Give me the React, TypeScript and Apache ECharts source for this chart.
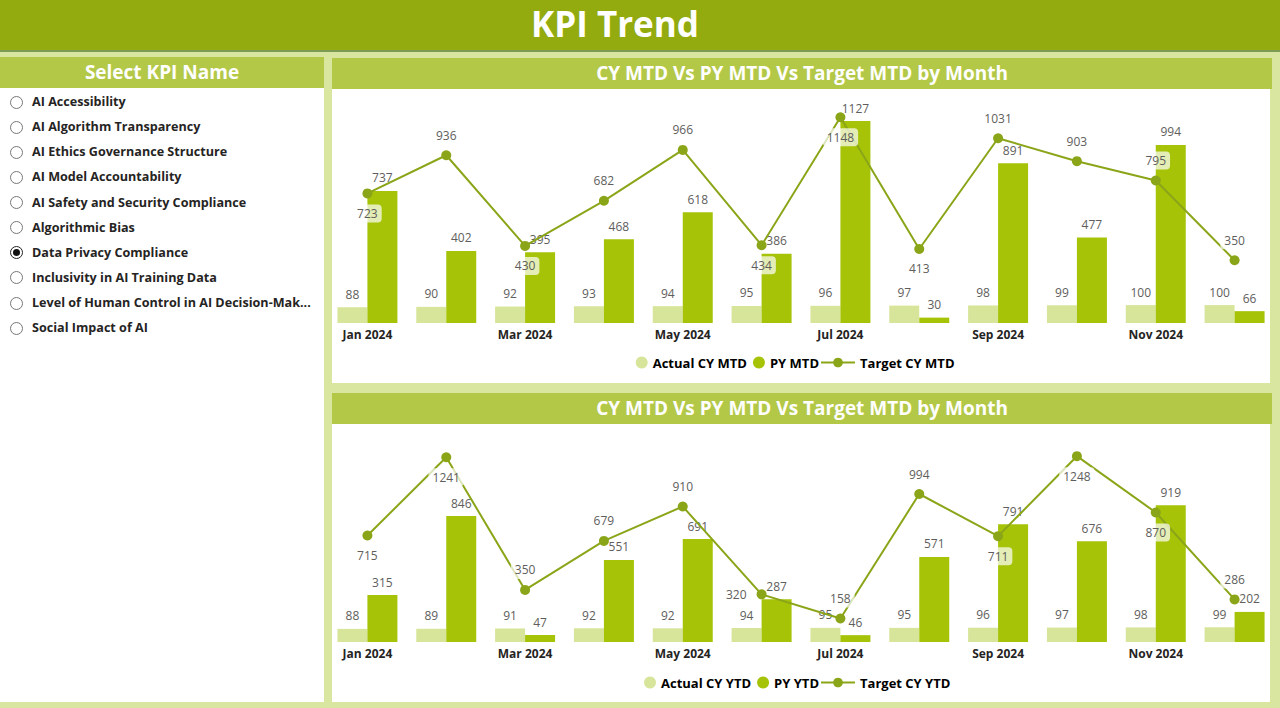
import React, { useEffect, useRef } from "react";
import * as echarts from "echarts";

const months = ["Jan 2024", "Feb 2024", "Mar 2024", "Apr 2024", "May 2024", "Jun 2024", "Jul 2024", "Aug 2024", "Sep 2024", "Oct 2024", "Nov 2024", "Dec 2024"];

const actualCyMtd = [88, 90, 92, 93, 94, 95, 96, 97, 98, 99, 100, 100];
const pyMtd = [737, 402, 395, 468, 618, 386, 1127, 30, 891, 477, 994, 66];
const targetCyMtd = [723, 936, 430, 682, 966, 434, 1148, 413, 1031, 903, 795, 350];

const actualCyYtd = [88, 89, 91, 92, 92, 94, 95, 95, 96, 97, 98, 99];
const pyYtd = [315, 846, 47, 551, 691, 287, 46, 571, 791, 676, 919, 202];
const targetCyYtd = [715, 1241, 350, 679, 910, 320, 158, 994, 711, 1248, 870, 286];

const kpiNames = [
  "AI Accessibility",
  "AI Algorithm Transparency",
  "AI Ethics Governance Structure",
  "AI Model Accountability",
  "AI Safety and Security Compliance",
  "Algorithmic Bias",
  "Data Privacy Compliance",
  "Inclusivity in AI Training Data",
  "Level of Human Control in AI Decision-Mak...",
  "Social Impact of AI",
];
const selectedKpi = "Data Privacy Compliance";

// label placement for the target line (layout only)
const mtdLabelPos = ["bottom", "top", "bottom", "top", "top", "bottom", "bottom", "bottom", "top", "top", "top", "top"];
const ytdLabelPos = ["bottom", "bottom", "top", "top", "top", "left", "top", "top", "bottom", "bottom", "bottom", "top"];

const FONT = "'Open Sans', 'Noto Sans', sans-serif";
const C_ACTUAL = "#d7e59a";
const C_PY = "#a6c308";
const C_LINE = "#8aa518";
const C_LABEL = "#605e5c";

function buildOption(
  actual: number[],
  py: number[],
  target: number[],
  pos: string[],
  names: string[],
  max: number,
  gridTop: number,
  legendTop: number
) {
  const lbl = { show: true, position: "top", distance: 7, color: C_LABEL, fontSize: 12, fontFamily: FONT };
  return {
    animation: false,
    grid: { left: 8, right: 6, top: gridTop, bottom: 60 },
    legend: [
      {
        data: [
          { name: names[0], icon: "circle", itemStyle: { color: C_ACTUAL } },
          { name: names[1], icon: "circle", itemStyle: { color: C_PY } },
        ],
        right: 456,
        top: legendTop,
        itemWidth: 12,
        itemHeight: 12,
        itemGap: 6,
        textStyle: { fontFamily: FONT, fontSize: 13, fontWeight: "bold", color: "#000" },
      },
      {
        data: [{ name: names[2] }],
        left: 495,
        top: legendTop,
        itemWidth: 34,
        itemHeight: 12,
        textStyle: { fontFamily: FONT, fontSize: 13, fontWeight: "bold", color: "#000" },
      },
    ],
    xAxis: {
      type: "category",
      data: months,
      axisLine: { show: false },
      axisTick: { show: false },
      axisLabel: {
        interval: 1,
        margin: 5,
        color: "#252423",
        fontWeight: "bold",
        fontSize: 12,
        fontFamily: FONT,
      },
    },
    yAxis: { type: "value", min: 0, max, show: false, splitLine: { show: false } },
    series: [
      {
        name: names[0],
        type: "bar",
        data: actual,
        barWidth: 30,
        barGap: "0%",
        itemStyle: { color: C_ACTUAL },
        label: lbl,
      },
      {
        name: names[1],
        type: "bar",
        data: py,
        barWidth: 30,
        barGap: "0%",
        itemStyle: { color: C_PY },
        label: lbl,
      },
      {
        name: names[2],
        type: "line",
        z: 5,
        data: target.map((v, i) => ({ value: v, label: { position: pos[i] } })),
        symbol: "circle",
        symbolSize: 10,
        itemStyle: { color: C_LINE },
        lineStyle: { color: C_LINE, width: 2 },
        label: {
          show: true,
          distance: 6,
          color: C_LABEL,
          fontSize: 12,
          fontFamily: FONT,
          backgroundColor: "rgba(255,255,255,0.7)",
          borderRadius: 4,
          padding: [3, 4],
        },
      },
    ],
  };
}

function Chart({ option, style }: { option: any; style: React.CSSProperties }) {
  const ref = useRef<HTMLDivElement>(null);
  useEffect(() => {
    if (!ref.current) return;
    const chart = echarts.init(ref.current, undefined, { renderer: "svg" });
    chart.setOption(option);
    return () => chart.dispose();
  }, [option]);
  return <div ref={ref} style={style} />;
}

const topOption = buildOption(actualCyMtd, pyMtd, targetCyMtd, mtdLabelPos, ["Actual CY MTD", "PY MTD", "Target CY MTD"], 1250, 10, 262);
const bottomOption = buildOption(actualCyYtd, pyYtd, targetCyYtd, ytdLabelPos, ["Actual CY YTD", "PY YTD", "Target CY YTD"], 1350, 17, 247);

const bandStyle: React.CSSProperties = {
  position: "absolute",
  background: "#b4c848",
  color: "#fff",
  fontWeight: "bold",
  fontSize: 19,
  textAlign: "center",
  fontFamily: FONT,
};

export default function App() {
  return (
    <div
      style={{
        position: "fixed",
        left: 0,
        top: 0,
        width: 1280,
        height: 708,
        background: "#d8e6a0",
        overflow: "hidden",
        fontFamily: FONT,
      }}
    >
      {/* Header */}
      <div style={{ position: "absolute", left: 0, top: 0, width: 1280, height: 50, background: "#93ab0f", borderBottom: "2px solid #7d9a55" }} />
      <div style={{ position: "absolute", left: 0, top: 0, width: 1230, height: 50, lineHeight: "48px", textAlign: "center", color: "#fff", fontWeight: "bold", fontSize: 35 }}>
        KPI Trend
      </div>

      {/* Left slicer panel */}
      <div style={{ position: "absolute", left: 0, top: 57, width: 324, height: 645, background: "#fff" }} />
      <div style={{ ...bandStyle, left: 0, top: 57, width: 324, height: 31, lineHeight: "30px" }}>Select KPI Name</div>
      <div style={{ position: "absolute", left: 0, top: 89, width: 324 }}>
        {kpiNames.map((n) => {
          const sel = n === selectedKpi;
          return (
            <div key={n} style={{ height: 25.15, display: "flex", alignItems: "center", position: "relative" }}>
              <div
                style={{
                  position: "absolute",
                  left: 10,
                  top: 6.5,
                  width: 11,
                  height: 11,
                  borderRadius: "50%",
                  border: sel ? "1px solid #222" : "1px solid #777",
                  background: "#fff",
                  boxSizing: "content-box",
                }}
              >
                {sel && <div style={{ position: "absolute", left: 2, top: 2, width: 7, height: 7, borderRadius: "50%", background: "#111" }} />}
              </div>
              <span style={{ position: "absolute", left: 32, fontSize: 12.6, fontWeight: "bold", color: "#252423", whiteSpace: "nowrap" }}>{n}</span>
            </div>
          );
        })}
      </div>

      {/* Top chart panel */}
      <div style={{ position: "absolute", left: 332, top: 58, width: 938, height: 325, background: "#fff" }} />
      <div style={{ ...bandStyle, left: 332, top: 58, width: 940, height: 31, lineHeight: "30px" }}>CY MTD Vs PY MTD Vs Target MTD by Month</div>
      <Chart option={topOption} style={{ position: "absolute", left: 320, top: 89, width: 960, height: 294 }} />

      {/* Bottom chart panel */}
      <div style={{ position: "absolute", left: 332, top: 393, width: 938, height: 309, background: "#fff" }} />
      <div style={{ ...bandStyle, left: 332, top: 393, width: 940, height: 31, lineHeight: "30px" }}>CY MTD Vs PY MTD Vs Target MTD by Month</div>
      <Chart option={bottomOption} style={{ position: "absolute", left: 320, top: 424, width: 960, height: 278 }} />
    </div>
  );
}
